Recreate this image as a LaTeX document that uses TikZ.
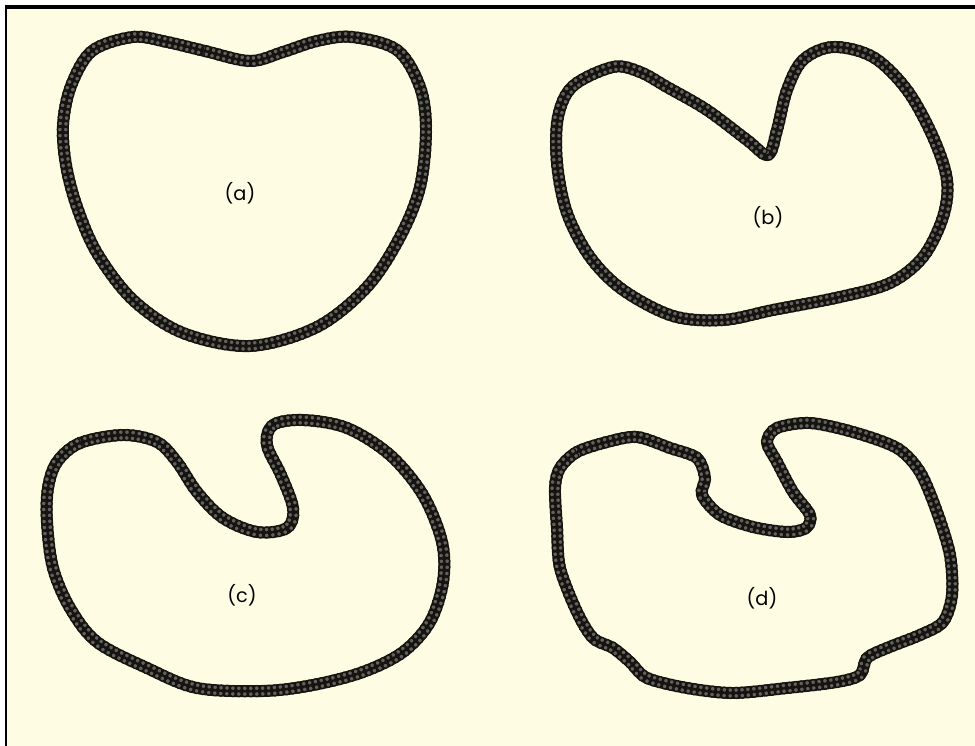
\documentclass[tikz,border=0pt]{standalone}
\usepackage{fontspec}
\setmainfont{Poppins}
\usepackage{tikz}
\usetikzlibrary{decorations.markings}
\usepackage{xcolor}
\definecolor{paper}{RGB}{254,252,226}
\definecolor{ink}{RGB}{22,20,14}

\begin{document}
\begin{tikzpicture}[x=0.02cm, y=-0.02cm,
    beads/.style={postaction={decorate}, decoration={markings,
        mark=between positions 0 and 1 step 3.4pt with {
            \draw[ink, line width=0.75pt, fill=black!62] (0,1.65pt) circle (1.5pt);
            \draw[ink, line width=0.75pt, fill=black!62] (0,-1.65pt) circle (1.5pt);}}},
    contour/.style={ink, line width=6.8pt, line join=round, beads},
    tag/.style={font=\fontsize{11}{13}\selectfont}]
    \useasboundingbox (0,0) rectangle (975,746);
    % sheet and frame
    \fill[white] (0,0) rectangle (975,746);
    \fill[paper] (5,7) rectangle (975,746);
    \fill[black] (5,5) rectangle (975,9);
    \fill[black] (5,5) rectangle (7,746);

    % (a) heart-like outline
    \draw[contour] plot[smooth cycle, tension=0.55] coordinates {
        (250,61) (205,51) (167,42) (133,37) (92,51) (71,86) (63,125) (66,165)
        (77,207) (97,253) (133,300) (183,333) (250,346) (317,327) (367,287)
        (400,237) (420,187) (426,130) (420,87) (397,50) (352,37) (317,41) (283,52)};
    \node[tag] (la) at (240,193) {(a)};

    % (b) one narrow fold
    \draw[contour] plot[smooth cycle, tension=0.55] coordinates {
        (613,67) (573,86) (558,117) (557,163) (567,213) (590,257) (623,290)
        (673,316) (723,320) (773,310) (840,297) (890,283) (923,257) (943,217)
        (947,180) (933,137) (907,90) (873,57) (833,47) (803,60) (787,90)
        (777,130) (768,155) (747,140) (707,110) (667,87) (640,72)};
    \node[tag] (lb) at (768,217) {(b)};

    % (c) deep fold
    \draw[contour] plot[smooth cycle, tension=0.55] coordinates {
        (57,462) (80,443) (123,435) (157,442) (177,462) (197,492) (223,518)
        (257,532) (287,528) (293,508) (281,475) (267,445) (273,425) (303,420)
        (347,428) (390,455) (423,495) (442,542) (443,582) (430,622) (403,652)
        (363,672) (313,685) (263,691) (197,688) (147,668) (97,642) (70,608)
        (53,568) (47,522) (48,488)};
    \node[tag] (lc) at (242,595) {(c)};

    % (d) deep fold, rough edge
    \draw[contour] plot[smooth cycle, tension=0.5] coordinates {
        (560,468) (577,452) (607,442) (637,437) (670,448) (697,458) (705,478)
        (702,495) (720,515) (753,527) (787,532) (806,528) (810,515) (793,492)
        (777,462) (767,442) (777,428) (810,423) (853,432) (897,448) (920,472)
        (937,512) (950,555) (952,595) (943,622) (920,635) (887,648) (867,658)
        (860,675) (837,682) (787,688) (733,693) (687,688) (647,678) (630,662)
        (613,648) (593,638) (577,612) (560,568) (557,528) (555,488)};
    \node[tag] (ld) at (762,598) {(d)};
\end{tikzpicture}
\end{document}
